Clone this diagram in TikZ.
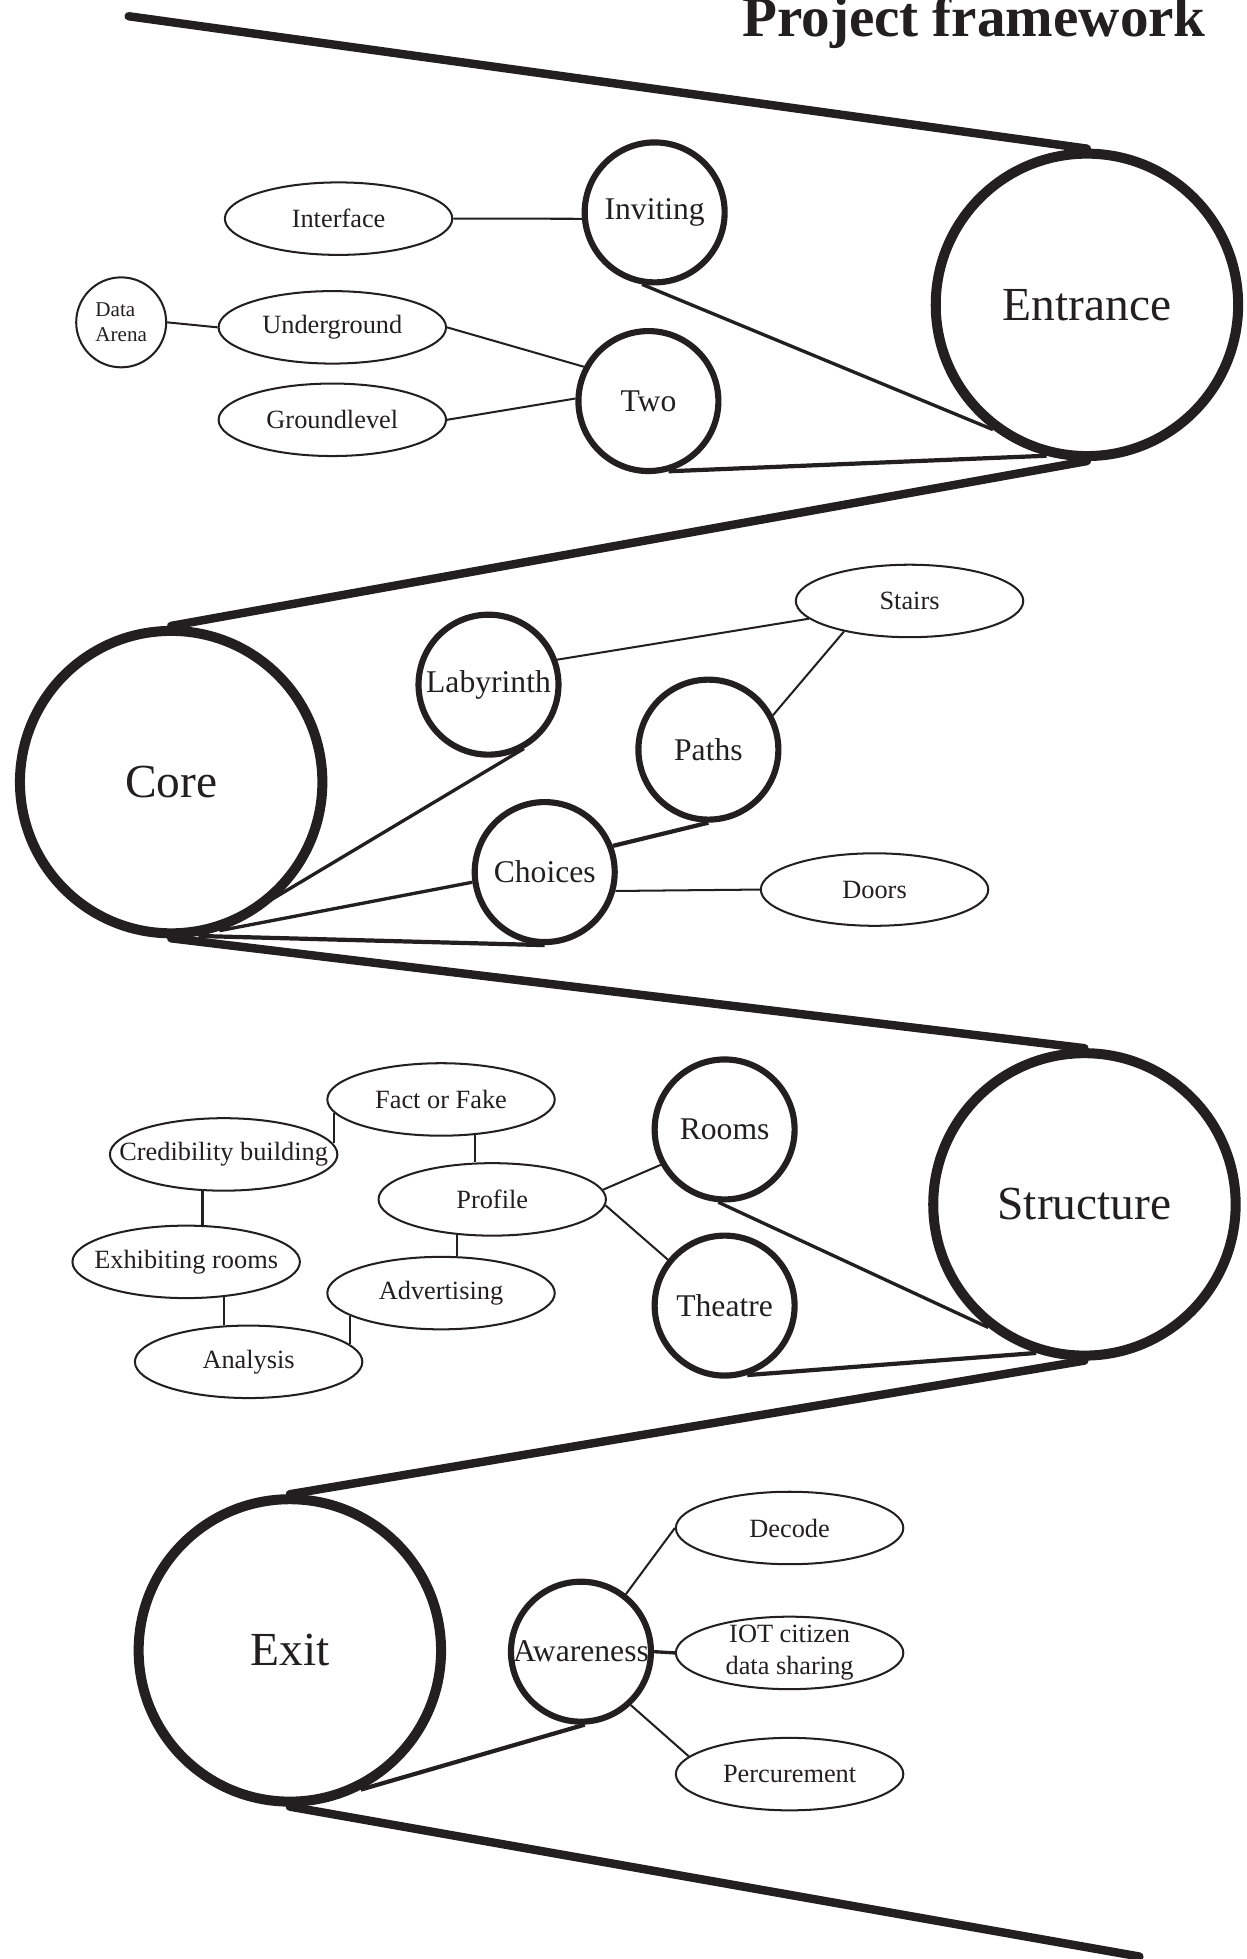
\documentclass[tikz,border=0pt]{standalone}
\usepackage{fontspec}
\setmainfont{Liberation Serif}
\usetikzlibrary{shapes.geometric}
\definecolor{ink}{HTML}{231F20}
\tikzset{
  big/.style={circle,draw=ink,text=ink,line width=5.7pt,inner sep=0pt,minimum size=6.05cm,font=\fontsize{27}{30}\selectfont},
  mid/.style={circle,draw=ink,text=ink,line width=3.5pt,inner sep=-3pt,minimum size=2.8cm,font=\fontsize{18}{20}\selectfont},
  leaf/.style={ellipse,draw=ink,text=ink,line width=1.15pt,inner xsep=-0.7cm,inner ysep=-0.2cm,minimum width=4.55cm,minimum height=1.45cm,font=\fontsize{15}{18}\selectfont},
  funnel/.style={draw=ink,line width=4.8pt,line cap=round},
  link/.style={draw=ink,line width=1.9pt},
  heavy/.style={draw=ink,line width=2.4pt},
  thin/.style={draw=ink,line width=1.15pt}
}
\begin{document}
\begin{tikzpicture}[x=0.025cm,y=-0.025cm]
  \useasboundingbox (0,0) rectangle (998,1568);
  \clip (0,0) rectangle (998,1568);
  \node[anchor=base east,text=ink,font=\bfseries\fontsize{32.5}{36}\selectfont] (title) at (970,29) {Project framework};
  \path (103,13) coordinate (top) (912,1566) coordinate (bottom);
  \foreach \n/\x/\y/\t in {entrance/870/244/Entrance,core/137/626/Core,structure/868/964/Structure,exit/232/1321/Exit}
    \node[big] (\n) at (\x,\y) {\t};
  \foreach \n/\x/\y/\t in {inviting/524/170/Inviting,two/519/321/Two,labyrinth/391/548/Labyrinth,paths/567/600/Paths,choices/436/698/Choices,rooms/580/904/Rooms,theatre/580/1045/Theatre,awareness/465/1322/Awareness}
    \node[mid] (\n) at (\x,\y) {\t};
  \foreach \n/\x/\y/\t in {interface/271/175/Interface,underground/266/262/Underground,groundlevel/266/336/Groundlevel,stairs/728/481/Stairs,doors/700/712/Doors,factfake/353/880/Fact or Fake,credibility/179/924/Credibility building,profile/394/960/Profile,exhibiting/149/1010/Exhibiting rooms,advertising/353/1035/Advertising,analysis/199/1090/Analysis,decode/632/1223/Decode,percurement/632/1420/Percurement}
    \node[leaf] (\n) at (\x,\y) {\t};
  \node[leaf,align=center] (iot) at (632,1323) {IOT citizen\\data sharing};
  \node[circle,draw=ink,text=ink,line width=1.15pt,inner sep=0pt,minimum size=1.8cm,align=left,font=\fontsize{12}{14}\selectfont] (arena) at (97,258) {Data\\Arena};

  \draw[funnel] (top) -- (entrance.north) (entrance.south) -- (core.north)
    (core.south) -- (structure.north) (structure.south) -- (exit.north) (exit.south) -- (bottom);

  \draw[thin] (interface.east) -- (inviting.185);
  \draw[link] (inviting.-100) -- (entrance.-127);
  \draw[heavy] (two.-74) -- (entrance.-105);
  \draw[thin] (underground.east) -- (two.152) (groundlevel.east) -- (two.178)
    (arena.east) -- (underground.west);

  \draw[link] (labyrinth.-61) -- (core.-72) (choices.-172) -- (core.-72);
  \draw[heavy] (choices.south) -- (core.-80) (choices.21) -- (paths.south);
  \draw[thin] (labyrinth.20) -- (stairs.190) (paths.28) -- (stairs.205)
    (choices.-15) -- (doors.west);

  \draw[link] (rooms.-95) -- (structure.-128);
  \draw[heavy] (theatre.-72) -- (structure.-108);
  \draw[thin] (profile.5) -- (rooms.-151) (profile.-3) -- (theatre.141);
  \draw[thin] (factfake.187) -- (factfake.187 |- credibility.6)
    (factfake.-46) -- (factfake.-46 |- profile.north)
    (credibility.-120) -- (credibility.-120 |- exhibiting.north)
    (profile.-135) -- (profile.-135 |- advertising.north)
    (exhibiting.-43) -- (exhibiting.-43 |- analysis.north)
    (advertising.194) -- (advertising.194 |- analysis.10);

  \draw[heavy] (awareness.-87) -- (exit.-63);
  \draw[link] (awareness.east) -- (iot.west);
  \draw[thin] (awareness.52) -- (decode.west) (awareness.-47) -- (percurement.170);
\end{tikzpicture}
\end{document}
